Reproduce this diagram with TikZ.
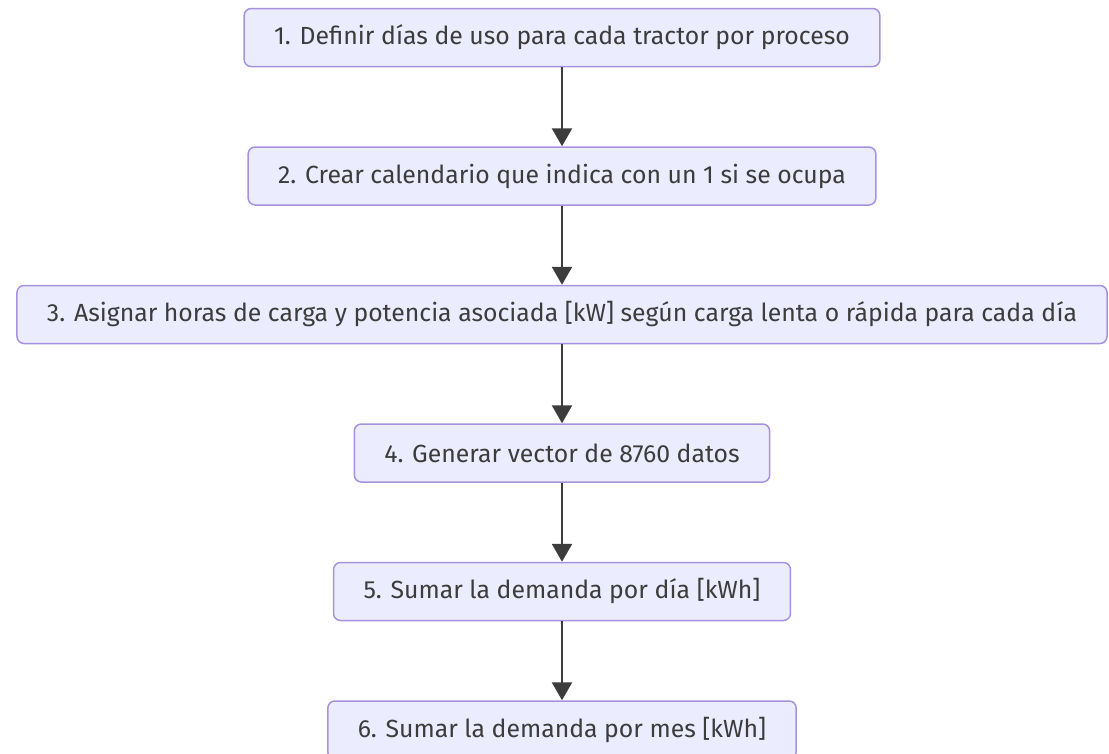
\documentclass[tikz,border=0pt]{standalone}
\usepackage{fontspec}
\setmainfont{Fira Sans}
\usetikzlibrary{positioning,arrows.meta}
\definecolor{cajafondo}{HTML}{ECECFF}
\definecolor{cajaborde}{HTML}{A792E0}
\definecolor{textogris}{HTML}{3C3C3C}
\begin{document}
\begin{tikzpicture}[
    paso/.style={draw=cajaborde, fill=cajafondo, line width=1.5pt, rounded corners=7pt,
        minimum height=58pt, inner xsep=30pt, text=textogris,
        font=\fontsize{24.8}{29}\selectfont},
    flecha/.style={draw=textogris, line width=2.5pt, -{Triangle[width=20pt,length=18pt]}},
    node distance=79pt
]
        % Marco del dibujo
        \useasboundingbox (0,0) rectangle (1109pt,-753pt);

        % Pasos del proceso
        \node[paso] (p1) at (562pt,-37.5pt) {1. Definir días de uso para cada tractor por proceso};
        \node[paso, below=of p1] (p2) {2. Crear calendario que indica con un 1 si se ocupa};
        \node[paso, below=of p2] (p3) {3. Asignar horas de carga y potencia asociada [kW] según carga lenta o rápida para cada día};
        \node[paso, below=of p3] (p4) {4. Generar vector de 8760 datos};
        \node[paso, below=of p4] (p5) {5. Sumar la demanda por día [kWh]};
        \node[paso, below=of p5] (p6) {6. Sumar la demanda por mes [kWh]};

        % Flechas
        \draw[flecha] (p1) -- (p2);
        \draw[flecha] (p2) -- (p3);
        \draw[flecha] (p3) -- (p4);
        \draw[flecha] (p4) -- (p5);
        \draw[flecha] (p5) -- (p6);
    \end{tikzpicture}
\end{document}
